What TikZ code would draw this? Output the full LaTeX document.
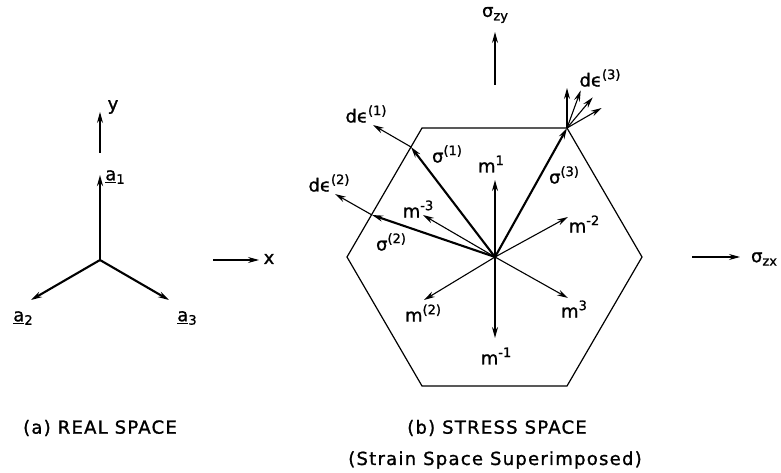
\documentclass[tikz,border=0pt]{standalone}
\usepackage{fontspec}
\setmainfont{DejaVu Sans}[FakeBold=1.2]
\usetikzlibrary{arrows.meta}

\newcommand{\upidx}[1]{\raisebox{0.75ex}{\fontsize{13}{15}\selectfont #1}}
\newcommand{\dnidx}[1]{\raisebox{-0.35ex}{\fontsize{13}{15}\selectfont #1}}

\begin{document}
\begin{tikzpicture}[x=1pt, y=-1pt,
    vec/.style = {-{Stealth[length=11pt, width=6pt]}, line width=1.1pt},
    midvec/.style = {vec, line width=1.6pt},
    thickvec/.style = {vec, line width=2.1pt},
    lbl/.style = {inner sep=0pt, font=\fontsize{18}{21}\selectfont},
    caption/.style = {inner sep=0pt, font=\fontsize{18}{21}\selectfont\addfontfeatures{LetterSpace=7}}
  ]
    \useasboundingbox (0,0) rectangle (781,473);

    % (a) real space
    \coordinate (O) at (100,260);
    \coordinate (a1) at (100,175);
    \coordinate (a2) at (31,300);
    \coordinate (a3) at (169,300);
    \coordinate (ybot) at (100,153);
    \coordinate (ytop) at (100,112);
    \coordinate (xlft) at (213,260);
    \coordinate (xrgt) at (259,260);
    \draw[thickvec] (O) -- (a1);
    \draw[thickvec] (O) -- (a2);
    \draw[thickvec] (O) -- (a3);
    \draw[vec] (ybot) -- (ytop);
    \draw[vec] (xlft) -- (xrgt);
    \node[lbl] (ylbl) at (113,107) {y};
    \node[lbl] (a1lbl) at (115,177) {\underline{a}\dnidx{1}};
    \node[lbl] (a2lbl) at (23,318) {\underline{a}\dnidx{2}};
    \node[lbl] (a3lbl) at (187,318) {\underline{a}\dnidx{3}};
    \node[lbl] (xlbl) at (269,259) {x};

    % (b) stress space
    \coordinate (hTL) at (422,128);
    \coordinate (hTR) at (567,128);
    \coordinate (hR) at (642,257);
    \coordinate (hBR) at (567,386);
    \coordinate (hBL) at (422,386);
    \coordinate (hL) at (347,257);
    \draw[line width=1.2pt] (hTL) -- (hTR) -- (hR) -- (hBR) -- (hBL) -- (hL) -- cycle;

    \coordinate (C) at (495,257);
    \coordinate (m1) at (495,180);
    \coordinate (mm1) at (495,338);
    \coordinate (mm2) at (568,217);
    \coordinate (m3) at (568,298);
    \coordinate (m2) at (424,300);
    \coordinate (mm3) at (423,215);
    \draw[midvec] (C) -- (m1);
    \draw[midvec] (C) -- (mm1);
    \draw[vec] (C) -- (mm2);
    \draw[vec] (C) -- (m3);
    \draw[vec] (C) -- (m2);
    \draw[vec] (C) -- (mm3);

    \coordinate (P1) at (411,147);
    \coordinate (P2) at (372,215);
    \coordinate (de1) at (373,125);
    \coordinate (de2) at (335,194);
    \draw[thickvec] (C) -- (P1);
    \draw[thickvec] (C) -- (P2);
    \draw[thickvec] (C) -- (hTR);
    \draw[vec] (P1) -- (de1);
    \draw[vec] (P2) -- (de2);
    \foreach \ang in {90,70,50,30}
        \draw[vec] (hTR) -- ++({40*cos(\ang)},{-40*sin(\ang)});

    \coordinate (zyb) at (495,85);
    \coordinate (zyt) at (495,32);
    \coordinate (zxl) at (692,257);
    \coordinate (zxr) at (740,257);
    \draw[vec] (zyb) -- (zyt);
    \draw[vec] (zxl) -- (zxr);

    \node[lbl] (m1lbl) at (491,164) {m\upidx{1}};
    \node[lbl] (mm1lbl) at (496,356) {m\upidx{-1}};
    \node[lbl] (mm2lbl) at (584,224) {m\upidx{-2}};
    \node[lbl] (m3lbl) at (574,309) {m\upidx{3}};
    \node[lbl] (m2lbl) at (423,313) {m\upidx{(2)}};
    \node[lbl] (mm3lbl) at (418,209) {m\upidx{-3}};
    \node[lbl] (s1lbl) at (447,154) {σ\upidx{(1)}};
    \node[lbl] (s2lbl) at (391,242) {σ\upidx{(2)}};
    \node[lbl] (s3lbl) at (564,175) {σ\upidx{(3)}};
    \node[lbl] (de1lbl) at (366,114) {dϵ\upidx{(1)}};
    \node[lbl] (de2lbl) at (329,183) {dϵ\upidx{(2)}};
    \node[lbl] (de3lbl) at (600,78) {dϵ\upidx{(3)}};
    \node[lbl] (zylbl) at (495,15) {σ\dnidx{zy}};
    \node[lbl] (zxlbl) at (764,259) {σ\dnidx{zx}};

    % captions
    \node[caption] (capa) at (100,428) {(a) REAL SPACE};
    \node[caption] (capb) at (497,428) {(b) STRESS SPACE};
    \node[caption] (capc) at (495,460) {(Strain Space Superimposed)};
\end{tikzpicture}
\end{document}
